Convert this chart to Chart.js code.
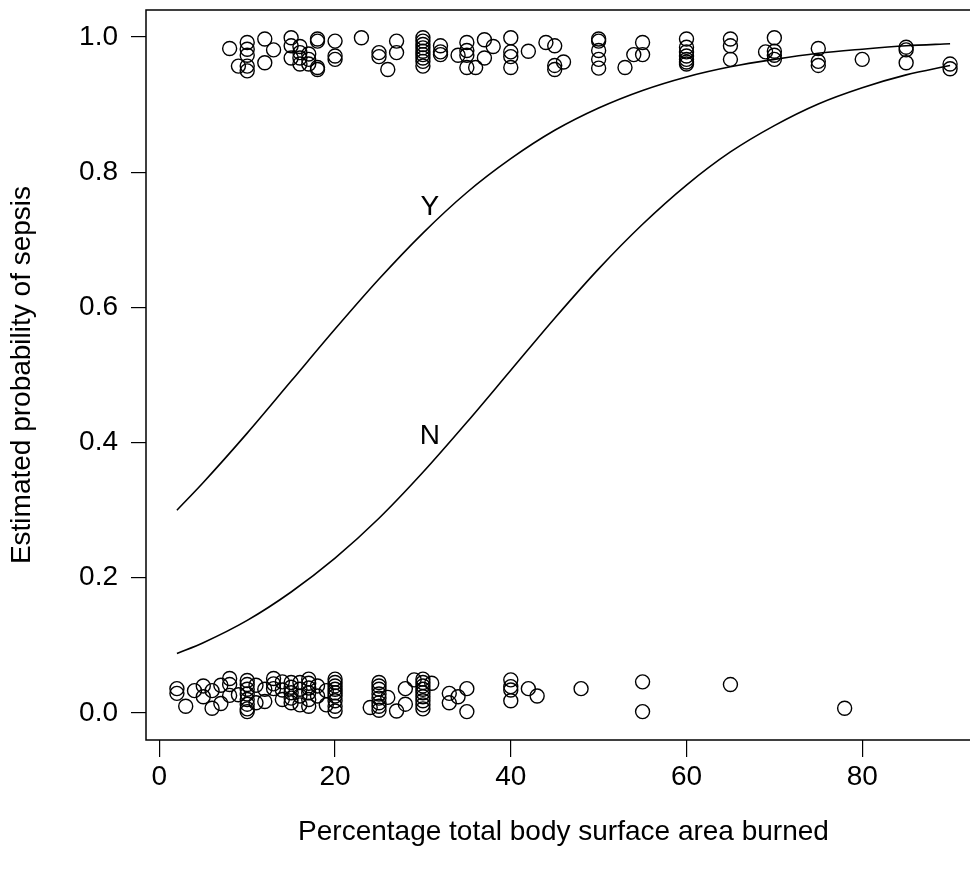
<!DOCTYPE html>
<html>
<head>
<meta charset="utf-8">
<script src="https://cdn.jsdelivr.net/npm/chart.js@4.4.1/dist/chart.umd.min.js"></script>
<style>
  html, body { margin: 0; padding: 0; background: #fff; overflow: hidden; }
  #wrap { position: absolute; left: 0; top: 0; width: 1000px; height: 881px; }
</style>
</head>
<body>
<div id="wrap"><canvas id="grafico" width="1000" height="881"></canvas></div>
<script>
// sepsis = yes (jittered near 1)
const yesX = [8, 9, 10, 10, 10, 10, 10, 12, 13, 12,
  15, 15, 15, 16, 16, 16, 16, 17, 17, 17, 18, 18, 18, 18,
  20, 20, 20, 23, 25, 25, 26, 27, 27,
  30, 30, 30, 30, 30, 30, 30, 30, 30, 32, 32, 32,
  34, 35, 35, 35, 37, 38, 37, 35, 36,
  40, 40, 40, 40, 42, 44, 45, 46, 45, 45,
  50, 50, 50, 50, 50, 55, 54, 55, 53,
  60, 60, 60, 60, 60, 60, 60, 65, 65, 65,
  70, 70, 70, 70, 69, 75, 75, 75, 80, 85, 85, 85, 90, 90];
const yesY = [0.983, 0.957, 0.992, 0.982, 0.973, 0.957, 0.950, 0.997, 0.981, 0.962,
  0.999, 0.987, 0.969, 0.986, 0.977, 0.969, 0.960, 0.967, 0.960, 0.975, 0.997, 0.994, 0.952, 0.955,
  0.994, 0.972, 0.967, 0.999, 0.977, 0.971, 0.952, 0.994, 0.977,
  0.999, 0.994, 0.989, 0.984, 0.979, 0.974, 0.969, 0.964, 0.957, 0.987, 0.974, 0.978,
  0.973, 0.992, 0.980, 0.973, 0.996, 0.986, 0.969, 0.955, 0.955,
  0.999, 0.978, 0.971, 0.955, 0.979, 0.992, 0.987, 0.963, 0.958, 0.952,
  0.997, 0.994, 0.980, 0.967, 0.954, 0.992, 0.974, 0.974, 0.955,
  0.997, 0.985, 0.978, 0.972, 0.967, 0.963, 0.960, 0.997, 0.987, 0.967,
  0.999, 0.979, 0.973, 0.967, 0.978, 0.983, 0.964, 0.958, 0.967, 0.985, 0.981, 0.962, 0.960, 0.953];

// sepsis = no (jittered near 0)
const noX = [2, 2, 3, 4, 5, 5, 6, 6, 7, 7, 8, 8, 8, 9,
  10, 10, 10, 10, 10, 10, 10, 10, 11, 11, 12, 12, 13, 13, 13, 14, 14, 14,
  15, 15, 15, 15, 15, 16, 16, 16, 16, 17, 17, 17, 17, 17, 17, 18, 18, 19, 19,
  20, 20, 20, 20, 20, 20, 20, 20, 20,
  24, 25, 25, 25, 25, 25, 25, 25, 25, 26, 27, 28, 28, 29,
  30, 30, 30, 30, 30, 30, 30, 30, 30, 31, 33, 33, 34, 35, 35,
  40, 40, 40, 40, 42, 43, 48, 55, 55, 65, 78];
const noY = [0.036, 0.029, 0.010, 0.033, 0.040, 0.024, 0.033, 0.007, 0.041, 0.014, 0.051, 0.042, 0.026, 0.027,
  0.048, 0.042, 0.035, 0.028, 0.020, 0.013, 0.006, 0.002, 0.041, 0.015, 0.017, 0.035, 0.051, 0.043, 0.036, 0.034, 0.046, 0.020,
  0.045, 0.038, 0.030, 0.022, 0.015, 0.045, 0.035, 0.025, 0.012, 0.050, 0.044, 0.037, 0.030, 0.020, 0.010, 0.040, 0.025, 0.033, 0.012,
  0.050, 0.045, 0.040, 0.035, 0.030, 0.025, 0.018, 0.010, 0.003,
  0.008, 0.045, 0.040, 0.035, 0.028, 0.022, 0.015, 0.010, 0.004, 0.023, 0.003, 0.013, 0.036, 0.049,
  0.050, 0.045, 0.040, 0.035, 0.030, 0.024, 0.018, 0.012, 0.006, 0.044, 0.029, 0.015, 0.024, 0.036, 0.002,
  0.049, 0.039, 0.034, 0.018, 0.036, 0.025, 0.036, 0.046, 0.002, 0.042, 0.007];

// fitted curves
const curveX = [2, 5, 10, 15, 20, 25, 30, 35, 40, 45, 50, 55, 60, 65, 70, 75, 80, 85, 90];
const curveY = [0.300, 0.341, 0.414, 0.491, 0.568, 0.642, 0.710, 0.770, 0.820, 0.862,
  0.895, 0.921, 0.941, 0.956, 0.967, 0.976, 0.982, 0.987, 0.990];
const curveN = [0.088, 0.104, 0.137, 0.179, 0.229, 0.288, 0.356, 0.430, 0.507, 0.584,
  0.657, 0.723, 0.781, 0.830, 0.869, 0.901, 0.925, 0.944, 0.958];

const curveLabels = [
  { text: 'Y', x: 30.8, y: 0.748 },
  { text: 'N', x: 30.8, y: 0.409 }
];

const xTicks = [0, 20, 40, 60, 80];
const yTicks = [0, 0.2, 0.4, 0.6, 0.8, 1.0];

const FONT = 'Liberation Sans, Arial, Helvetica, sans-serif';
const SIZE = 28;

const toPoints = (xs, ys) => xs.map((x, i) => ({ x, y: ys[i] }));

const boxPlugin = {
  id: 'box',
  afterDraw(chart) {
    const { ctx, chartArea: a } = chart;
    ctx.save();
    ctx.strokeStyle = '#000';
    ctx.lineWidth = 1.5;
    ctx.strokeRect(a.left, a.top, a.right - a.left, a.bottom - a.top);
    ctx.restore();
  }
};

const labelPlugin = {
  id: 'curveLabels',
  afterDatasetsDraw(chart) {
    const { ctx, scales } = chart;
    ctx.save();
    ctx.fillStyle = '#000';
    ctx.font = SIZE + 'px ' + FONT;
    ctx.textAlign = 'center';
    ctx.textBaseline = 'middle';
    curveLabels.forEach(l => {
      ctx.fillText(l.text, scales.x.getPixelForValue(l.x), scales.y.getPixelForValue(l.y));
    });
    ctx.restore();
  }
};

const circle = {
  type: 'scatter',
  pointStyle: 'circle',
  pointRadius: 7,
  pointHoverRadius: 7,
  backgroundColor: 'rgba(0,0,0,0)',
  borderColor: '#000',
  borderWidth: 1.4
};

const curve = {
  type: 'line',
  borderColor: '#000',
  borderWidth: 1.6,
  pointRadius: 0,
  fill: false,
  cubicInterpolationMode: 'monotone'
};

new Chart(document.getElementById('grafico').getContext('2d'), {
  data: {
    datasets: [
      { ...curve, data: toPoints(curveX, curveY) },
      { ...curve, data: toPoints(curveX, curveN) },
      { ...circle, data: toPoints(yesX, yesY) },
      { ...circle, data: toPoints(noX, noY) }
    ]
  },
  options: {
    responsive: false,
    animation: false,
    events: [],
    layout: { padding: { left: 0, top: 10, right: 19, bottom: 0 } },
    plugins: { legend: { display: false }, tooltip: { enabled: false } },
    scales: {
      x: {
        type: 'linear',
        min: -1.52,
        max: 93.52,
        afterBuildTicks: s => { s.ticks = xTicks.map(v => ({ value: v })); },
        afterFit: s => { s.height = 141; s.paddingLeft = 0; s.paddingRight = 0; },
        grid: { drawOnChartArea: false, drawTicks: true, tickLength: 17, color: '#000', lineWidth: 1.2 },
        border: { display: false },
        ticks: { color: '#000', font: { family: FONT, size: SIZE }, padding: 3, maxRotation: 0, autoSkip: false },
        title: {
          display: true,
          text: 'Percentage total body surface area burned',
          color: '#000',
          font: { family: FONT, size: SIZE },
          padding: { bottom: 32 }
        }
      },
      y: {
        type: 'linear',
        min: -0.04,
        max: 1.04,
        afterBuildTicks: s => { s.ticks = yTicks.map(v => ({ value: v })); },
        afterFit: s => { s.width = 146; s.paddingTop = 0; s.paddingBottom = 0; },
        grid: { drawOnChartArea: false, drawTicks: true, tickLength: 15, color: '#000', lineWidth: 1.2 },
        border: { display: false },
        ticks: {
          color: '#000',
          font: { family: FONT, size: SIZE },
          padding: 13,
          autoSkip: false,
          callback: v => v.toFixed(1)
        },
        title: {
          display: true,
          text: 'Estimated probability of sepsis',
          color: '#000',
          font: { family: FONT, size: SIZE },
          padding: { top: 5 }
        }
      }
    }
  },
  plugins: [boxPlugin, labelPlugin]
});
</script>
</body>
</html>
